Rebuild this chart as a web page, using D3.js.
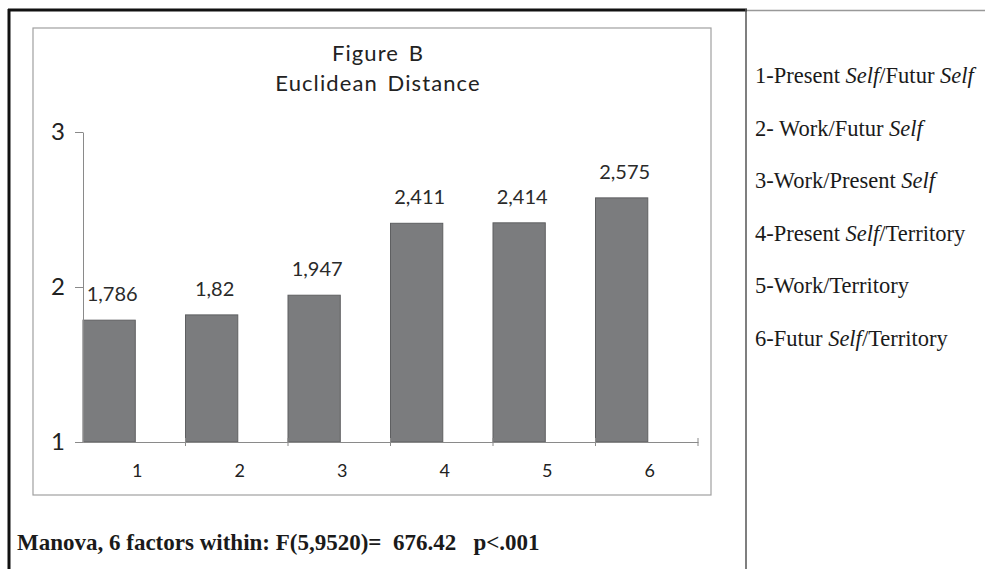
<!DOCTYPE html>
<html>
<head>
<meta charset="utf-8">
<script src="https://cdn.jsdelivr.net/npm/d3@7"></script>
<style>
  body { margin: 0; background: #fff; }
  svg { display: block; }
</style>
</head>
<body>
<svg id="chart" width="985" height="569"></svg>
<script>
// data
var categories = ['1', '2', '3', '4', '5', '6'];
var distances = [1.786, 1.82, 1.947, 2.411, 2.414, 2.575];
var valueLabels = ['1,786', '1,82', '1,947', '2,411', '2,414', '2,575'];
var yTicks = [1, 2, 3];
var titleLines = ['Figure B', 'Euclidean Distance'];
// legend lines: pieces of [text, italic]
var legendItems = [
    [['1-Present ', false], ['Self', true], ['/Futur ', false], ['Self', true]],
    [['2- Work/Futur ', false], ['Self', true]],
    [['3-Work/Present ', false], ['Self', true]],
    [['4-Present ', false], ['Self', true], ['/Territory', false]],
    [['5-Work/Territory', false]],
    [['6-Futur ', false], ['Self', true], ['/Territory', false]]
];
var footnote = 'Manova, 6 factors within: F(5,9520)=\u00a0 676.42 \u00a0 p<.001';

var svg = d3.select('#chart'),
    sans = 'Lato, "Open Sans", sans-serif',
    serif = '"Liberation Serif", "Times New Roman", serif',
    axisColor = '#8a8a8a',
    barColor = '#7b7c7e'

// outer frame
svg.append('line').attr('x1', 746).attr('x2', 985).attr('y1', 10.5).attr('y2', 10.5)
    .attr('stroke', '#999').attr('stroke-width', 1.5)
svg.append('line').attr('x1', 8).attr('x2', 747).attr('y1', 10).attr('y2', 10)
    .attr('stroke', '#111').attr('stroke-width', 3)
svg.append('line').attr('x1', 9).attr('x2', 9).attr('y1', 9).attr('y2', 569)
    .attr('stroke', '#111').attr('stroke-width', 3)
svg.append('line').attr('x1', 746).attr('x2', 746).attr('y1', 9).attr('y2', 569)
    .attr('stroke', '#555').attr('stroke-width', 1.5)

// inner chart box
svg.append('rect')
    .attr('x', 33).attr('y', 28).attr('width', 678).attr('height', 467)
    .attr('fill', 'none').attr('stroke', '#a0a0a0').attr('stroke-width', 1.2)

var x = d3.scaleBand()
    .domain(categories)
    .range([83, 698])
    .padding(0)

var y = d3.scaleLinear()
    .domain([1, 3])
    .range([442, 132])

// title
svg.append('g').selectAll('text')
    .data(titleLines)
    .enter().append('text')
    .attr('x', 378)
    .attr('y', (d, i) => 61 + i * 30)
    .attr('text-anchor', 'middle')
    .attr('font-family', sans)
    .attr('font-size', '22px')
    .attr('letter-spacing', '1.1px')
    .attr('word-spacing', '3px')
    .attr('fill', '#222')
    .text(d => d)

// bars
var barW = x.bandwidth() * 0.51
svg.append('g').selectAll('rect')
    .data(distances)
    .enter().append('rect')
    .attr('x', (d, i) => x(categories[i]))
    .attr('y', d => y(d))
    .attr('width', barW)
    .attr('height', d => y(1) - y(d))
    .attr('fill', barColor)
    .attr('stroke', '#5e5f61')
    .attr('stroke-width', 1)

// value labels
svg.append('g').selectAll('text')
    .data(distances)
    .enter().append('text')
    .attr('x', (d, i) => x(categories[i]) + barW / 2 + 3)
    .attr('y', d => y(d) - 19)
    .attr('text-anchor', 'middle')
    .attr('font-family', sans)
    .attr('font-size', '20px')
    .attr('fill', '#2a2a2a')
    .text((d, i) => valueLabels[i])

// y axis
var yAxis = svg.append('g')
    .attr('transform', 'translate(83,0)')
    .call(d3.axisLeft(y).tickValues(yTicks).tickSize(8).tickSizeOuter(0).tickFormat(d3.format('d')))
yAxis.select('.domain').attr('stroke', axisColor)
yAxis.selectAll('.tick line').attr('stroke', axisColor)
yAxis.selectAll('.tick text')
    .attr('x', -18)
    .attr('font-family', sans)
    .attr('font-size', '24px')
    .attr('fill', '#222')

// x axis: line, ticks at band edges, labels shifted right of band centre
var xAxis = svg.append('g')
    .attr('transform', 'translate(0,' + y(1) + ')')
    .call(d3.axisBottom(x).tickSize(0).tickSizeOuter(0))
xAxis.select('.domain').attr('stroke', axisColor)
xAxis.selectAll('.tick text')
    .attr('dx', 3)
    .attr('y', 22)
    .attr('font-family', sans)
    .attr('font-size', '18px')
    .attr('fill', '#222')

var edges = categories.map(c => x(c)).concat([x.range()[1]])
xAxis.selectAll('.edge')
    .data(edges.slice(1))
    .enter().append('line')
    .attr('class', 'edge')
    .attr('x1', d => d).attr('x2', d => d)
    .attr('y1', -4).attr('y2', 4)
    .attr('stroke', axisColor)

// legend
var legend = svg.append('g')
legendItems.forEach(function(parts, i) {
    var t = legend.append('text')
        .attr('x', 755)
        .attr('y', 83 + i * 52.5)
        .attr('font-family', serif)
        .attr('font-size', '22.5px')
        .attr('fill', '#1a1a1a')
    parts.forEach(function(p) {
        t.append('tspan')
            .attr('font-style', p[1] ? 'italic' : 'normal')
            .text(p[0])
    })
})

// footnote
svg.append('text')
    .attr('x', 17)
    .attr('y', 550)
    .attr('font-family', serif)
    .attr('font-size', '23px')
    .attr('font-weight', 'bold')
    .attr('fill', '#1a1a1a')
    .text(footnote)
</script>
</body>
</html>
